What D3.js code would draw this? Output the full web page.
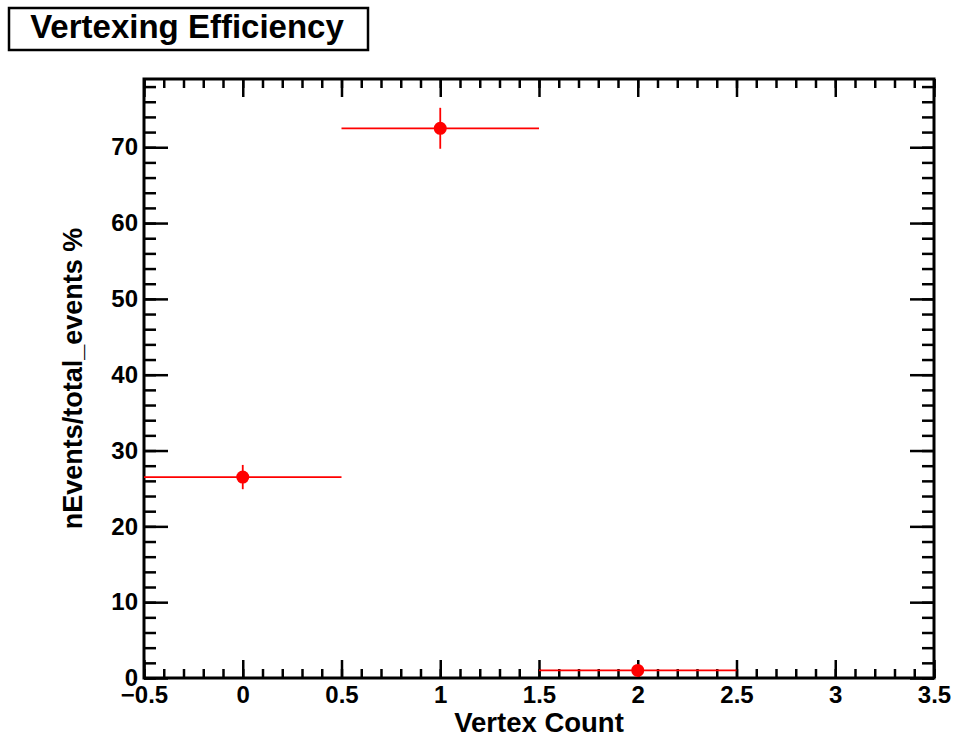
<!DOCTYPE html>
<html>
<head>
<meta charset="utf-8">
<script src="https://cdn.jsdelivr.net/npm/d3@7"></script>
<style>
  body { margin: 0; background: #fff; }
  svg { display: block; font-family: "Liberation Sans", Arial, Helvetica, sans-serif; font-weight: bold; }
  .axis path.domain { display: none; }
  .axis line { stroke: #000; stroke-width: 2.5; }
  .axis text { fill: #000; font-size: 24px; font-weight: bold; }
</style>
</head>
<body>
<div id="chart"></div>
<script>
// data
const vertexCount = [0, 1, 2];
const efficiency = [26.5, 72.5, 1.0];
const effError = [1.6, 2.7, 0.35];
const binHalfWidth = 0.5;

const xDomain = [-0.5, 3.5];
const yDomain = [0, 79];

const W = 955, H = 739;
const frame = { left: 144, right: 934, top: 79, bottom: 678 };

const svg = d3.select("#chart").append("svg")
    .attr("width", W)
    .attr("height", H);

const x = d3.scaleLinear().domain(xDomain).range([frame.left, frame.right]);
const y = d3.scaleLinear().domain(yDomain).range([frame.bottom, frame.top]);

const fmt = d3.format("~g");
const xMajor = x.ticks(8), xMinor = x.ticks(40);
const yMajor = y.ticks(8), yMinor = y.ticks(40);

// x axes (bottom with labels, top mirrored)
svg.append("g").attr("class", "axis")
    .attr("transform", `translate(0,${frame.bottom})`)
    .call(d3.axisBottom(x).tickValues(xMinor).tickSize(-9).tickFormat(""));
svg.append("g").attr("class", "axis")
    .attr("transform", `translate(0,${frame.bottom})`)
    .call(d3.axisBottom(x).tickValues(xMajor).tickSize(-18).tickPadding(8).tickFormat(fmt));
svg.append("g").attr("class", "axis")
    .attr("transform", `translate(0,${frame.top})`)
    .call(d3.axisTop(x).tickValues(xMinor).tickSize(-9).tickFormat(""));
svg.append("g").attr("class", "axis")
    .attr("transform", `translate(0,${frame.top})`)
    .call(d3.axisTop(x).tickValues(xMajor).tickSize(-18).tickFormat(""));

// y axes (left with labels, right mirrored)
svg.append("g").attr("class", "axis")
    .attr("transform", `translate(${frame.left},0)`)
    .call(d3.axisLeft(y).tickValues(yMinor).tickSize(-12).tickFormat(""));
svg.append("g").attr("class", "axis")
    .attr("transform", `translate(${frame.left},0)`)
    .call(d3.axisLeft(y).tickValues(yMajor).tickSize(-24).tickPadding(6).tickFormat(fmt));
svg.append("g").attr("class", "axis")
    .attr("transform", `translate(${frame.right},0)`)
    .call(d3.axisRight(y).tickValues(yMinor).tickSize(-12).tickFormat(""));
svg.append("g").attr("class", "axis")
    .attr("transform", `translate(${frame.right},0)`)
    .call(d3.axisRight(y).tickValues(yMajor).tickSize(-24).tickFormat(""));

// frame
svg.append("rect")
    .attr("x", frame.left).attr("y", frame.top)
    .attr("width", frame.right - frame.left)
    .attr("height", frame.bottom - frame.top)
    .attr("fill", "none").attr("stroke", "#000").attr("stroke-width", 3);

// points with error bars
const pts = vertexCount.map((v, i) => ({ v, e: efficiency[i], err: effError[i] }));
const g = svg.append("g");
g.selectAll("line.xerr").data(pts).join("line")
    .attr("class", "xerr")
    .attr("x1", d => x(d.v - binHalfWidth)).attr("x2", d => x(d.v + binHalfWidth))
    .attr("y1", d => y(d.e)).attr("y2", d => y(d.e))
    .attr("stroke", "red").attr("stroke-width", 1.8);
g.selectAll("line.yerr").data(pts).join("line")
    .attr("class", "yerr")
    .attr("x1", d => x(d.v)).attr("x2", d => x(d.v))
    .attr("y1", d => y(d.e - d.err)).attr("y2", d => y(d.e + d.err))
    .attr("stroke", "red").attr("stroke-width", 1.8);
g.selectAll("circle").data(pts).join("circle")
    .attr("cx", d => x(d.v)).attr("cy", d => y(d.e))
    .attr("r", 6.5).attr("fill", "red");

// axis titles
svg.append("text")
    .attr("x", (frame.left + frame.right) / 2).attr("y", 732)
    .attr("text-anchor", "middle").attr("font-size", 27.5)
    .text("Vertex Count");
svg.append("text")
    .attr("transform", `translate(82,${(frame.top + frame.bottom) / 2}) rotate(-90)`)
    .attr("text-anchor", "middle").attr("font-size", 27)
    .text("nEvents/total_events %");

// title box
svg.append("rect")
    .attr("x", 9).attr("y", 8).attr("width", 359).attr("height", 42)
    .attr("fill", "#fff").attr("stroke", "#000").attr("stroke-width", 2.5);
svg.append("text")
    .attr("x", 187).attr("y", 38)
    .attr("text-anchor", "middle").attr("font-size", 33)
    .text("Vertexing Efficiency");
</script>
</body>
</html>
